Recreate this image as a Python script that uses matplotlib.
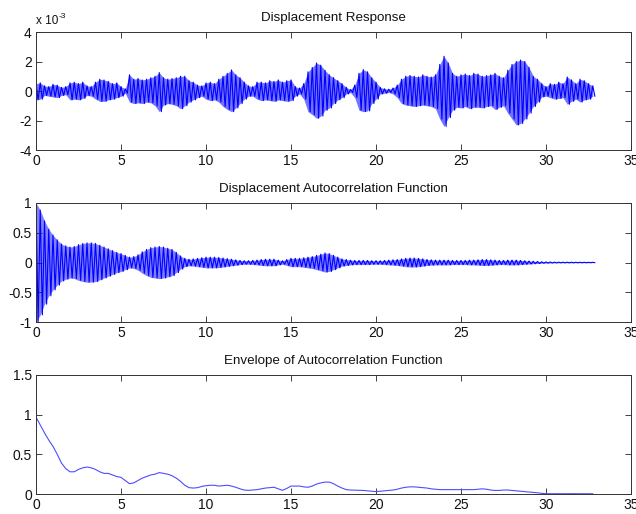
import numpy as np
import matplotlib
matplotlib.use("Agg")
import matplotlib.pyplot as plt

plt.rcParams['font.family'] = ['Liberation Sans', 'DejaVu Sans']

# ---------------- data ----------------
dt = 0.25  # sampling step of the tabulated peak values [s]

# Displacement response: positive and negative peak values (x 1e-3)
disp_upper = [
    0.5, 0.55, 0.35, 0.3, 0.45, 0.4, 0.25, 0.3, 0.55, 0.6, 0.5, 0.6,
    0.35, 0.3, 0.6, 0.8, 0.75, 0.65, 0.5, 0.55, 0.3, 0.15, 1.1, 0.8,
    0.85, 0.75, 0.8, 0.9, 1.0, 1.25, 0.9, 0.8, 0.85, 0.9, 1.0, 1.0,
    0.7, 0.6, 0.4, 0.35, 0.55, 0.6, 0.5, 0.8, 1.0, 1.2, 1.43, 1.1,
    0.9, 0.6, 0.35, 0.3, 0.6, 0.6, 0.55, 0.7, 0.65, 0.75, 0.6, 0.7,
    0.75, 0.3, 0.2, 0.5, 1.3, 1.6, 1.9, 1.75, 1.4, 1.1, 0.9, 0.7,
    0.5, 0.25, 0.1, 0.4, 1.2, 1.45, 1.3, 0.9, 0.6, 0.25, 0.15, 0.12,
    0.2, 0.4, 0.8, 1.0, 1.05, 1.0, 0.95, 1.1, 1.0, 0.95, 1.1, 1.8,
    2.35, 1.9, 1.2, 1.0, 1.1, 1.15, 1.05, 1.2, 1.15, 1.0, 1.05, 1.1,
    1.2, 1.0, 0.9, 1.4, 1.8, 2.0, 2.1, 2.0, 1.6, 1.0, 0.8, 0.5,
    0.3, 0.5, 0.45, 0.6, 0.5, 0.95, 0.75, 0.5, 0.8, 0.7, 0.5, 0.35,
]
disp_lower = [
    -0.6, -0.55, -0.3, -0.35, -0.4, -0.45, -0.3, -0.25, -0.6, -0.55, -0.6, -0.5,
    -0.3, -0.35, -0.55, -0.7, -0.7, -0.6, -0.55, -0.45, -0.35, -0.15, -0.75, -0.85,
    -0.8, -0.85, -0.75, -0.8, -1.0, -1.4, -0.95, -0.85, -0.9, -1.0, -1.2, -1.0,
    -0.75, -0.6, -0.45, -0.35, -0.55, -0.65, -0.6, -0.75, -1.05, -1.25, -1.4, -1.15,
    -0.85, -0.55, -0.35, -0.35, -0.55, -0.65, -0.6, -0.65, -0.7, -0.6, -0.65, -0.7,
    -0.65, -0.35, -0.2, -0.55, -1.4, -1.6, -1.85, -1.7, -1.3, -1.15, -0.85, -0.6,
    -0.45, -0.2, -0.1, -0.45, -1.3, -1.4, -1.35, -0.85, -0.55, -0.2, -0.15, -0.1,
    -0.2, -0.45, -0.85, -0.95, -1.0, -1.05, -1.0, -0.95, -1.0, -1.05, -1.2, -1.9,
    -2.4, -1.8, -1.3, -1.1, -1.15, -1.05, -1.2, -1.1, -1.1, -1.15, -1.05, -1.0,
    -1.25, -1.1, -1.0, -1.5, -1.9, -2.3, -2.2, -1.9, -1.5, -1.05, -0.75, -0.4,
    -0.35, -0.45, -0.55, -0.5, -0.45, -0.9, -0.7, -0.55, -0.75, -0.6, -0.55, -0.35,
]

# Autocorrelation: peak amplitude of the oscillation
acf_peak = [
    1.0, 0.88, 0.7, 0.56, 0.46, 0.38, 0.31, 0.28, 0.26, 0.27, 0.3, 0.32,
    0.33, 0.33, 0.32, 0.29, 0.26, 0.23, 0.2, 0.17, 0.15, 0.12, 0.09, 0.1,
    0.13, 0.18, 0.22, 0.25, 0.26, 0.27, 0.26, 0.24, 0.22, 0.17, 0.11, 0.07,
    0.055, 0.06, 0.07, 0.08, 0.09, 0.09, 0.09, 0.085, 0.075, 0.065, 0.055, 0.045,
    0.035, 0.03, 0.03, 0.035, 0.04, 0.05, 0.055, 0.055, 0.055, 0.04, 0.03, 0.05,
    0.07, 0.07, 0.07, 0.08, 0.09, 0.1, 0.12, 0.14, 0.16, 0.15, 0.12, 0.09,
    0.06, 0.05, 0.04, 0.035, 0.035, 0.035, 0.035, 0.03, 0.03, 0.03, 0.035, 0.04,
    0.045, 0.05, 0.06, 0.07, 0.075, 0.075, 0.07, 0.06, 0.05, 0.045, 0.04, 0.04,
    0.04, 0.04, 0.035, 0.035, 0.035, 0.035, 0.04, 0.04, 0.045, 0.05, 0.05, 0.045,
    0.04, 0.035, 0.035, 0.04, 0.04, 0.04, 0.035, 0.03, 0.025, 0.02, 0.017, 0.012,
    0.01, 0.008, 0.006, 0.005, 0.005, 0.005, 0.005, 0.004, 0.004, 0.004, 0.003, 0.003,
]

# Envelope of the autocorrelation function
envelope = [
    0.97, 0.87, 0.77, 0.68, 0.6, 0.5, 0.39, 0.32, 0.28, 0.28, 0.31, 0.33,
    0.34, 0.33, 0.31, 0.28, 0.26, 0.26, 0.24, 0.22, 0.21, 0.17, 0.13, 0.14,
    0.17, 0.2, 0.22, 0.24, 0.25, 0.27, 0.26, 0.25, 0.23, 0.2, 0.16, 0.11,
    0.08, 0.075, 0.08, 0.095, 0.105, 0.11, 0.11, 0.1, 0.105, 0.11, 0.1, 0.085,
    0.065, 0.05, 0.046, 0.05, 0.055, 0.065, 0.075, 0.08, 0.085, 0.065, 0.046, 0.07,
    0.1, 0.1, 0.1, 0.09, 0.085, 0.1, 0.125, 0.14, 0.15, 0.15, 0.13, 0.1,
    0.075, 0.055, 0.05, 0.048, 0.045, 0.045, 0.04, 0.035, 0.03, 0.035, 0.04, 0.045,
    0.05, 0.06, 0.075, 0.085, 0.09, 0.09, 0.085, 0.08, 0.075, 0.065, 0.06, 0.055,
    0.055, 0.055, 0.055, 0.055, 0.055, 0.055, 0.055, 0.055, 0.06, 0.065, 0.06, 0.05,
    0.045, 0.045, 0.05, 0.05, 0.045, 0.04, 0.035, 0.03, 0.025, 0.02, 0.015, 0.008,
    0.004, 0.003, 0.004, 0.004, 0.003, 0.004, 0.004, 0.003, 0.003, 0.003, 0.003, 0.003,
]

titles = ["Displacement Response",
          "Displacement Autocorrelation Function",
          "Envelope of Autocorrelation Function"]
x_ticks = [0, 5, 10, 15, 20, 25, 30, 35]
y_ticks_1 = [-4, -2, 0, 2, 4]
y_ticks_2 = [-1, -0.5, 0, 0.5, 1]
y_ticks_3 = [0, 0.5, 1, 1.5]

# ---------------- build oscillating traces from tabulated peaks ----------------
t = np.arange(len(disp_upper)) * dt
x_osc = np.empty(2 * len(t))
x_osc[0::2] = t
x_osc[1::2] = t + dt / 2

y1 = np.empty(2 * len(t))
y1[0::2] = disp_upper
y1[1::2] = disp_lower

acf = np.asarray(acf_peak)
y2 = np.empty(2 * len(t))
y2[0::2] = acf
y2[1::2] = -acf

# ---------------- figure ----------------
fig = plt.figure(figsize=(6.36, 5.14), dpi=100)
W, H = 636, 514
def add_ax(left, top, right, bottom):
    return fig.add_axes([left / W, 1 - bottom / H, (right - left) / W, (bottom - top) / H])

ax1 = add_ax(36, 32, 631, 150)
ax2 = add_ax(36, 203, 631, 322)
ax3 = add_ax(36, 375, 631, 494)

blue = (0, 0, 1)
# dense oscillation: shaded band between the peaks plus the zig-zag trace
ax1.fill_between(t, disp_lower, disp_upper, color=(0.45, 0.45, 1.0), lw=0)
ax1.plot(x_osc, y1, color=blue, lw=0.8)
ax2.fill_between(t, -acf, acf, color=(0.5, 0.5, 1.0), lw=0)
ax2.plot(x_osc, y2, color=blue, lw=0.8)
ax3.plot(t, envelope, color=(0.3, 0.3, 1.0), lw=0.8)

for ax, title, yt, ylim in [
        (ax1, titles[0], y_ticks_1, (-4, 4)),
        (ax2, titles[1], y_ticks_2, (-1, 1)),
        (ax3, titles[2], y_ticks_3, (0, 1.5))]:
    ax.set_xlim(0, 35)
    ax.set_ylim(*ylim)
    ax.set_xticks(x_ticks)
    ax.set_yticks(yt)
    ax.set_xticklabels([f"{v:g}" for v in x_ticks])
    ax.set_yticklabels([f"{v:g}" for v in yt])
    ax.tick_params(direction='in', length=4, width=0.6, top=True, right=True,
                   labelsize=10, pad=3, colors='#222222', labelcolor='#111111')
    for s in ax.spines.values():
        s.set_linewidth(0.7)
        s.set_color('#333333')
    ax.set_title(title, fontsize=9.6, pad=8, color='#111111')

fig.text(36 / W, 1 - 24 / H, "x 10", fontsize=8.5, ha='left', va='baseline',
         color='#111111')
fig.text(59 / W, 1 - 18 / H, "-3", fontsize=6, ha='left', va='baseline',
         color='#111111')

fig.savefig("out.png", dpi=100)
